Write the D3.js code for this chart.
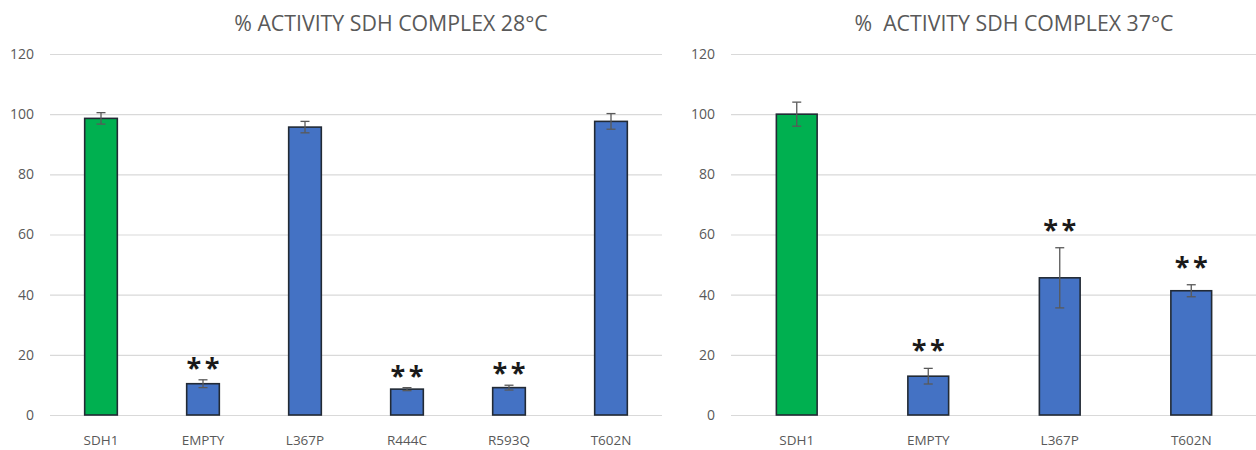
<!DOCTYPE html>
<html>
<head>
<meta charset="utf-8">
<script src="https://cdn.jsdelivr.net/npm/d3@7"></script>
<style>
  body { margin: 0; background: #fff; }
  svg { display: block; }
  text { font-family: "Open Sans", "Noto Sans", sans-serif; }
</style>
</head>
<body>
<svg id="chart" width="1256" height="450"></svg>
<script>
// Panel A: 28°C
const cats28 = ["SDH1", "EMPTY", "L367P", "R444C", "R593Q", "T602N"];
const vals28 = [98.6, 10.4, 95.7, 8.6, 9.1, 97.6];
const err28  = [1.9, 1.3, 1.9, 0.5, 0.8, 2.6];
const sig28  = [false, true, false, true, true, false];

// Panel B: 37°C
const cats37 = ["SDH1", "EMPTY", "L367P", "T602N"];
const vals37 = [100.0, 12.9, 45.6, 41.3];
const err37  = [4.0, 2.6, 10.0, 2.0];
const sig37  = [false, true, true, true];

const yTicks = [0, 20, 40, 60, 80, 100, 120];
const titles = ["% ACTIVITY SDH COMPLEX 28°C", "%  ACTIVITY SDH COMPLEX 37°C"];

const svg = d3.select("#chart");

function panel(cfg) {
  const { cats, vals, errs, sig, title, x0, x1, labelX, titleX, starGap } = cfg;
  const y = d3.scaleLinear().domain([0, 120]).range([415, 54]);
  const x = d3.scaleBand().domain(cats).range([x0, x1]).paddingInner(cfg.pad).paddingOuter(cfg.pad / 2);
  const g = svg.append("g");

  // gridlines
  g.selectAll("line.grid").data(yTicks).join("line")
    .attr("x1", x0).attr("x2", x1)
    .attr("y1", d => y(d) + 0.5).attr("y2", d => y(d) + 0.5)
    .attr("stroke", "#d9d9d9").attr("stroke-width", 1.2);

  // y tick labels
  const yAxis = d3.axisLeft(y).tickValues(yTicks).tickSize(0).tickPadding(0);
  const ya = g.append("g").attr("transform", `translate(${labelX},0)`).call(yAxis);
  ya.select(".domain").remove();
  ya.selectAll("text").attr("fill", "#595959").attr("font-size", 14)
    .attr("font-family", "'Open Sans', sans-serif");

  // bars
  g.selectAll("rect.bar").data(vals).join("rect")
    .attr("x", (d, i) => x(cats[i]))
    .attr("width", x.bandwidth())
    .attr("y", d => y(d))
    .attr("height", d => y(0) - y(d))
    .attr("fill", (d, i) => i === 0 ? "#00b050" : "#4472c4")
    .attr("stroke", "#222a35").attr("stroke-width", 1.6);

  // error bars
  const cx = i => x(cats[i]) + x.bandwidth() / 2;
  const eb = g.selectAll("g.err").data(vals).join("g").attr("stroke", "#595959").attr("stroke-width", 1.3);
  eb.append("line").attr("x1", (d, i) => cx(i)).attr("x2", (d, i) => cx(i))
    .attr("y1", (d, i) => y(d + errs[i])).attr("y2", (d, i) => y(d - errs[i]));
  eb.append("line").attr("x1", (d, i) => cx(i) - 4.5).attr("x2", (d, i) => cx(i) + 4.5)
    .attr("y1", (d, i) => y(d + errs[i])).attr("y2", (d, i) => y(d + errs[i]));
  eb.append("line").attr("x1", (d, i) => cx(i) - 4.5).attr("x2", (d, i) => cx(i) + 4.5)
    .attr("y1", (d, i) => y(d - errs[i])).attr("y2", (d, i) => y(d - errs[i]));

  // significance stars
  g.selectAll("text.star").data(vals.map((v, i) => ({ v, i })).filter(d => sig[d.i])).join("text")
    .attr("x", d => cx(d.i) + 1.75)
    .attr("y", d => y(d.v + errs[d.i]) - starGap)
    .attr("text-anchor", "middle")
    .attr("font-family", "'DejaVu Sans', sans-serif")
    .attr("font-size", 27).attr("font-weight", "bold").attr("fill", "#1a1a1a")
    .attr("letter-spacing", 3.5)
    .text("**");

  // category labels
  const xAxis = d3.axisBottom(x).tickSize(0).tickPadding(0);
  const xa = g.append("g").attr("transform", "translate(0,435)").call(xAxis);
  xa.select(".domain").remove();
  xa.selectAll("text").attr("fill", "#595959").attr("font-size", 13.5)
    .attr("font-family", "'Open Sans', sans-serif");

  // title
  g.append("text").attr("x", titleX).attr("y", 31)
    .attr("text-anchor", "middle").attr("fill", "#595959")
    .attr("font-size", 21.3).style("white-space", "pre")
    .text(title);
}

panel({ cats: cats28, vals: vals28, errs: err28, sig: sig28, title: titles[0],
        x0: 50, x1: 662, pad: 0.68, labelX: 34, titleX: 391, starGap: 3 });
panel({ cats: cats37, vals: vals37, errs: err37, sig: sig37, title: titles[1],
        x0: 731, x1: 1257, pad: 0.69, labelX: 715, titleX: 1014, starGap: 9 });
</script>
</body>
</html>
